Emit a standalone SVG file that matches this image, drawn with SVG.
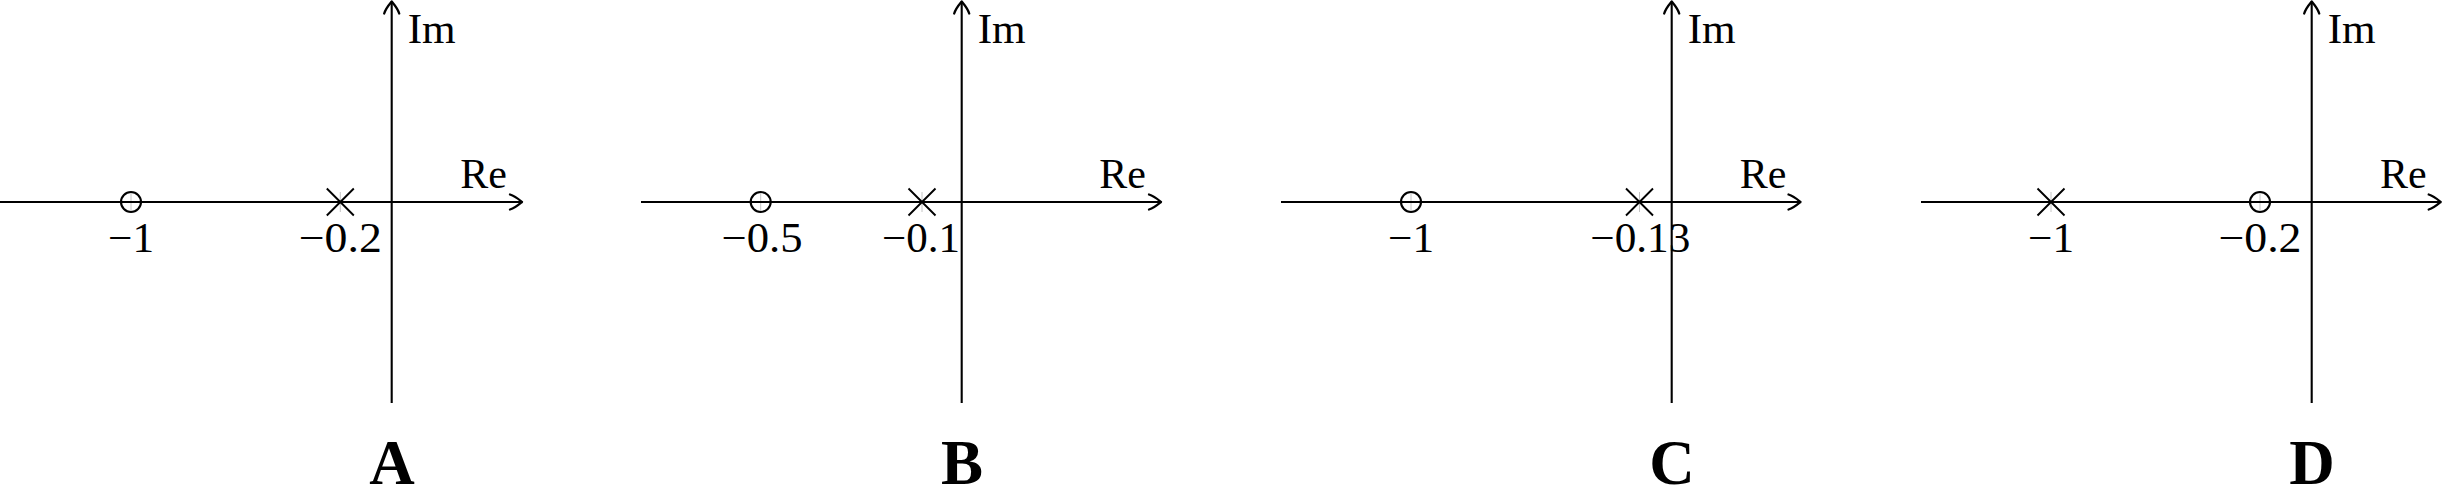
<svg xmlns="http://www.w3.org/2000/svg" width="2443" height="499" viewBox="0 0 2443 499">
<style>
.ax{stroke:#000;stroke-width:2.1;fill:none}
.tk{stroke:#c4c4c4;stroke-width:1}
.zero{stroke:#000;stroke-width:2.1;fill:none}
.pole{stroke:#000;stroke-width:1.9;fill:none}
.t{font-family:"Liberation Serif","Times New Roman",serif;font-size:42px;fill:#000}
.m{text-anchor:middle}
.e{text-anchor:end}
.b{font-family:"Liberation Serif","Times New Roman",serif;font-size:63px;font-weight:bold;fill:#000;text-anchor:middle}
</style>
<defs>
<marker id="arr" markerUnits="userSpaceOnUse" viewBox="-15 -10 17 20" refX="0" refY="0" markerWidth="17" markerHeight="20" orient="auto">
<path d="M-12,-7.5 C-7,-6 -3,-2.5 0,0 C-3,2.5 -7,6 -12,7.5" fill="none" stroke="#000" stroke-width="2.3" stroke-linecap="round" stroke-linejoin="round"/>
</marker>
</defs>
<g id="ticks">
<line class="tk" x1="131" y1="192" x2="131" y2="212"/>
<line class="tk" x1="340.3" y1="192" x2="340.3" y2="212"/>
<line class="tk" x1="760.7" y1="192" x2="760.7" y2="212"/>
<line class="tk" x1="922" y1="192" x2="922" y2="212"/>
<line class="tk" x1="1411" y1="192" x2="1411" y2="212"/>
<line class="tk" x1="1639.5" y1="192" x2="1639.5" y2="212"/>
<line class="tk" x1="2051" y1="192" x2="2051" y2="212"/>
<line class="tk" x1="2260" y1="192" x2="2260" y2="212"/>
</g>
<g id="connectors">
<line class="ax" x1="0" y1="202" x2="522" y2="202" marker-end="url(#arr)"/>
<line class="ax" x1="391.7" y1="403" x2="391.7" y2="1.5" marker-end="url(#arr)"/>
<line class="ax" x1="641" y1="202" x2="1161" y2="202" marker-end="url(#arr)"/>
<line class="ax" x1="961.7" y1="403" x2="961.7" y2="1.5" marker-end="url(#arr)"/>
<line class="ax" x1="1281" y1="202" x2="1800.5" y2="202" marker-end="url(#arr)"/>
<line class="ax" x1="1671.7" y1="403" x2="1671.7" y2="1.5" marker-end="url(#arr)"/>
<line class="ax" x1="1921" y1="202" x2="2440.7" y2="202" marker-end="url(#arr)"/>
<line class="ax" x1="2311.7" y1="403" x2="2311.7" y2="1.5" marker-end="url(#arr)"/>
</g>
<g id="panelA">
<text class="t" x="407.7" y="43" textLength="48" lengthAdjust="spacingAndGlyphs">Im</text>
<text class="t e" x="507" y="188">Re</text>
<g id="A-zero"><circle class="zero" cx="131" cy="202" r="10"/><text class="t m" x="131" y="252" textLength="46" lengthAdjust="spacingAndGlyphs">−1</text></g>
<g id="A-pole"><path class="pole" d="M326.8,188.5 L353.8,215.5 M326.8,215.5 L353.8,188.5"/><text class="t m" x="340.3" y="252" textLength="83" lengthAdjust="spacingAndGlyphs">−0.2</text></g>
<text class="b" x="392" y="484">A</text>
</g>
<g id="panelB">
<text class="t" x="977.7" y="43" textLength="48" lengthAdjust="spacingAndGlyphs">Im</text>
<text class="t e" x="1146" y="188">Re</text>
<g id="B-zero"><circle class="zero" cx="760.7" cy="202" r="10"/><text class="t m" x="762" y="252" textLength="81" lengthAdjust="spacingAndGlyphs">−0.5</text></g>
<g id="B-pole"><path class="pole" d="M908.5,188.5 L935.5,215.5 M908.5,215.5 L935.5,188.5"/><text class="t m" x="921" y="252" textLength="78" lengthAdjust="spacingAndGlyphs">−0.1</text></g>
<text class="b" x="962" y="484">B</text>
</g>
<g id="panelC">
<text class="t" x="1687.7" y="43" textLength="48" lengthAdjust="spacingAndGlyphs">Im</text>
<text class="t e" x="1786.5" y="188">Re</text>
<g id="C-zero"><circle class="zero" cx="1411" cy="202" r="10"/><text class="t m" x="1411" y="252" textLength="46" lengthAdjust="spacingAndGlyphs">−1</text></g>
<g id="C-pole"><path class="pole" d="M1626,188.5 L1653,215.5 M1626,215.5 L1653,188.5"/><text class="t m" x="1640.3" y="252" textLength="100" lengthAdjust="spacingAndGlyphs">−0.13</text></g>
<text class="b" x="1672" y="484">C</text>
</g>
<g id="panelD">
<text class="t" x="2327.7" y="43" textLength="48" lengthAdjust="spacingAndGlyphs">Im</text>
<text class="t e" x="2426.7" y="188">Re</text>
<g id="D-pole"><path class="pole" d="M2037.5,188.5 L2064.5,215.5 M2037.5,215.5 L2064.5,188.5"/><text class="t m" x="2051" y="252" textLength="46" lengthAdjust="spacingAndGlyphs">−1</text></g>
<g id="D-zero"><circle class="zero" cx="2260" cy="202" r="10"/><text class="t m" x="2260" y="252" textLength="83" lengthAdjust="spacingAndGlyphs">−0.2</text></g>
<text class="b" x="2312" y="484">D</text>
</g>
</svg>
